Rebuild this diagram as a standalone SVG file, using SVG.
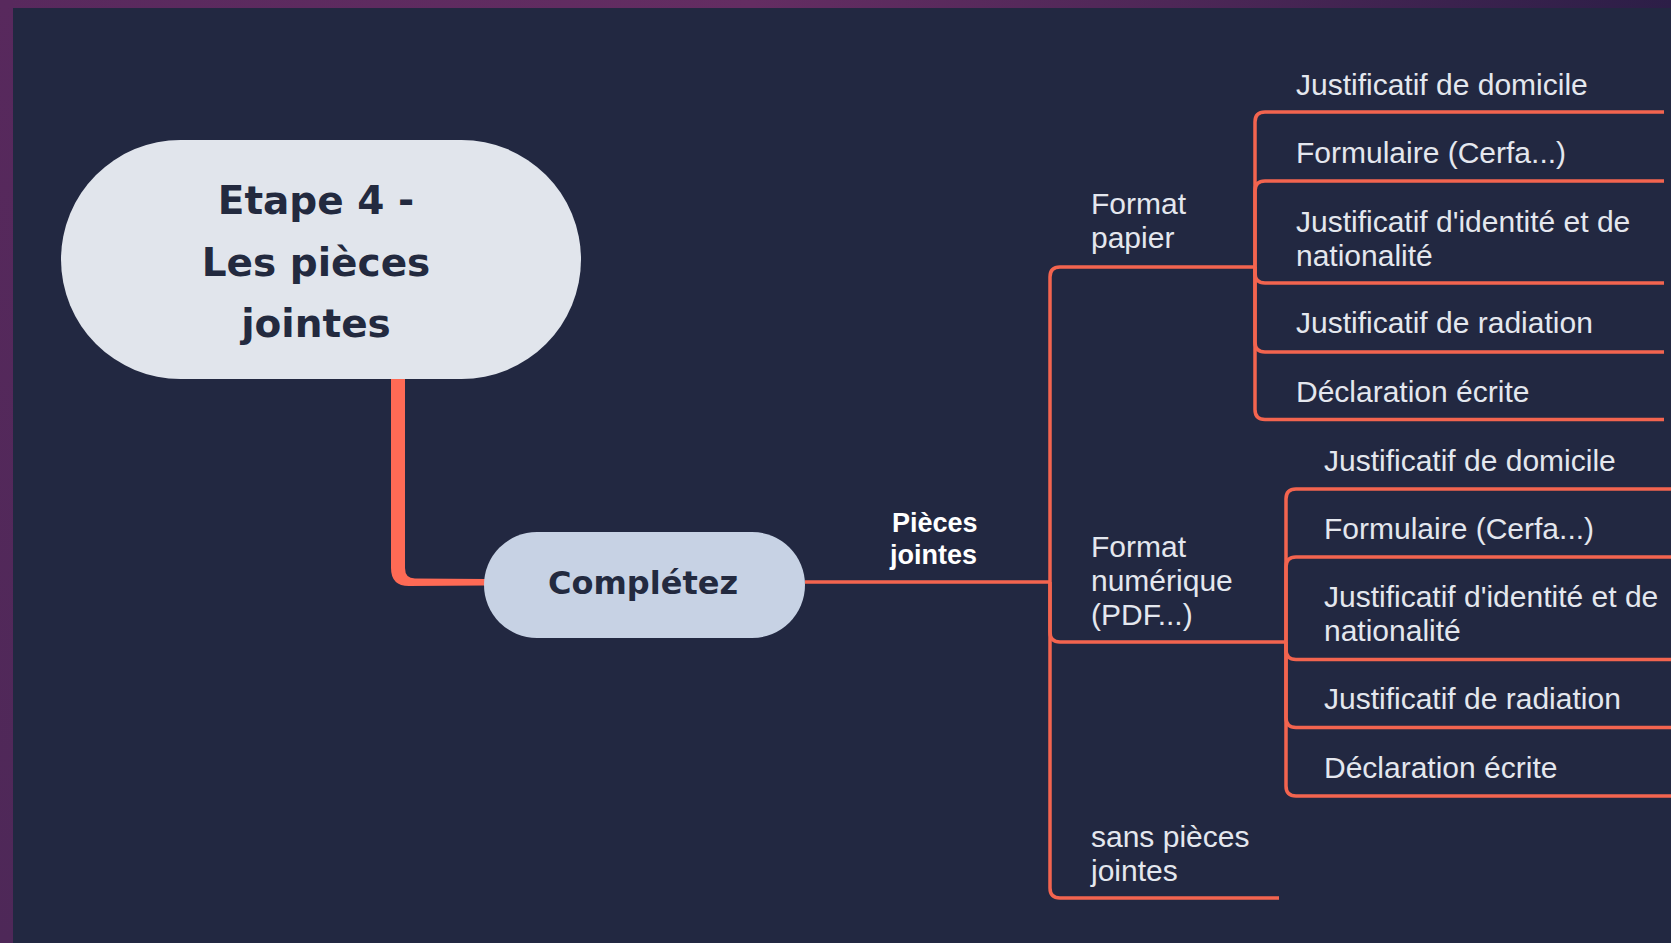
<svg xmlns="http://www.w3.org/2000/svg" width="1671" height="943" viewBox="0 0 1671 943">
  <defs>
    <linearGradient id="topGrad" x1="0" y1="0" x2="1" y2="0">
      <stop offset="0" stop-color="#58295d"/>
      <stop offset="0.45" stop-color="#642d62"/>
      <stop offset="0.7" stop-color="#4e2757"/>
      <stop offset="1" stop-color="#2c1e47"/>
    </linearGradient>
    <linearGradient id="leftGrad" x1="0" y1="0" x2="0" y2="1">
      <stop offset="0" stop-color="#58295d"/>
      <stop offset="1" stop-color="#4e2858"/>
    </linearGradient>
  </defs>
  <style>
    .lbl { font-family: "Liberation Sans", Arial, sans-serif; font-size: 30px; fill: #e4e7ee; }
    .title { font-family: "DejaVu Sans", sans-serif; font-weight: bold; fill: #232a3f; text-anchor: middle; }
    .edge { fill: none; stroke: #f3644f; stroke-width: 3.5; stroke-linecap: butt; }
    .elbl { font-family: "Liberation Sans", Arial, sans-serif; font-weight: 700; font-size: 27px; fill: #ffffff; }
  </style>

  <!-- frame -->
  <rect x="0" y="0" width="1671" height="943" fill="#222841"/>
  <rect x="0" y="0" width="1671" height="8" fill="url(#topGrad)"/>
  <rect x="0" y="0" width="13" height="943" fill="url(#leftGrad)"/>

  <!-- connectors -->
  <g id="connectors">
    <path d="M391,370 L405,370 L405,568 Q405,578.5 415,578.5 L486,579 L486,585.5 L409,586 Q391,586 391,568 Z" fill="#fe6a55"/>
    <path class="edge" d="M805,582 H1050"/>
    <path class="edge" d="M1050,582 V277 Q1050,267 1060,267 H1255"/>
    <path class="edge" d="M1050,582 V632 Q1050,642 1060,642 H1286"/>
    <path class="edge" d="M1050,582 V888 Q1050,898 1060,898 H1279"/>

    <path class="edge" d="M1255,267 V122 Q1255,112 1265,112 H1664"/>
    <path class="edge" d="M1255,267 V191 Q1255,181 1265,181 H1664"/>
    <path class="edge" d="M1255,267 V273 Q1255,283 1265,283 H1664"/>
    <path class="edge" d="M1255,267 V342 Q1255,352 1265,352 H1664"/>
    <path class="edge" d="M1255,267 V409.5 Q1255,419.5 1265,419.5 H1664"/>

    <path class="edge" d="M1286,642 V499 Q1286,489 1296,489 H1671"/>
    <path class="edge" d="M1286,642 V567 Q1286,557 1296,557 H1671"/>
    <path class="edge" d="M1286,642 V649.5 Q1286,659.5 1296,659.5 H1671"/>
    <path class="edge" d="M1286,642 V717.5 Q1286,727.5 1296,727.5 H1671"/>
    <path class="edge" d="M1286,642 V786 Q1286,796 1296,796 H1671"/>

    <text class="elbl" x="892" y="532">Pièces</text>
    <text class="elbl" x="890" y="564">jointes</text>
  </g>

  <!-- root -->
  <g id="root">
    <rect x="61" y="140" width="520" height="239" rx="119.5" fill="#e1e5ec"/>
    <text class="title" x="316" y="214" font-size="39">Etape 4 -</text>
    <text class="title" x="316" y="276" font-size="39">Les pièces</text>
    <text class="title" x="316" y="337" font-size="39">jointes</text>
  </g>

  <g id="completez">
    <rect x="484" y="532" width="321" height="106" rx="53" fill="#c7d2e4"/>
    <text class="title" x="643" y="594" font-size="32">Complétez</text>
  </g>

  <g id="format-papier">
    <text class="lbl" x="1091" y="214">Format</text>
    <text class="lbl" x="1091" y="248">papier</text>
  </g>
  <g id="format-numerique">
    <text class="lbl" x="1091" y="557">Format</text>
    <text class="lbl" x="1091" y="591">numérique</text>
    <text class="lbl" x="1091" y="625">(PDF...)</text>
  </g>
  <g id="sans-pieces">
    <text class="lbl" x="1091" y="847">sans pièces</text>
    <text class="lbl" x="1091" y="881">jointes</text>
  </g>

  <g id="p-domicile"><text class="lbl" x="1296" y="95">Justificatif de domicile</text></g>
  <g id="p-formulaire"><text class="lbl" x="1296" y="163">Formulaire (Cerfa...)</text></g>
  <g id="p-identite">
    <text class="lbl" x="1296" y="232">Justificatif d'identité et de</text>
    <text class="lbl" x="1296" y="266">nationalité</text>
  </g>
  <g id="p-radiation"><text class="lbl" x="1296" y="333">Justificatif de radiation</text></g>
  <g id="p-declaration"><text class="lbl" x="1296" y="402">Déclaration écrite</text></g>

  <g id="n-domicile"><text class="lbl" x="1324" y="471">Justificatif de domicile</text></g>
  <g id="n-formulaire"><text class="lbl" x="1324" y="539">Formulaire (Cerfa...)</text></g>
  <g id="n-identite">
    <text class="lbl" x="1324" y="607">Justificatif d'identité et de</text>
    <text class="lbl" x="1324" y="641">nationalité</text>
  </g>
  <g id="n-radiation"><text class="lbl" x="1324" y="709">Justificatif de radiation</text></g>
  <g id="n-declaration"><text class="lbl" x="1324" y="778">Déclaration écrite</text></g>
</svg>
